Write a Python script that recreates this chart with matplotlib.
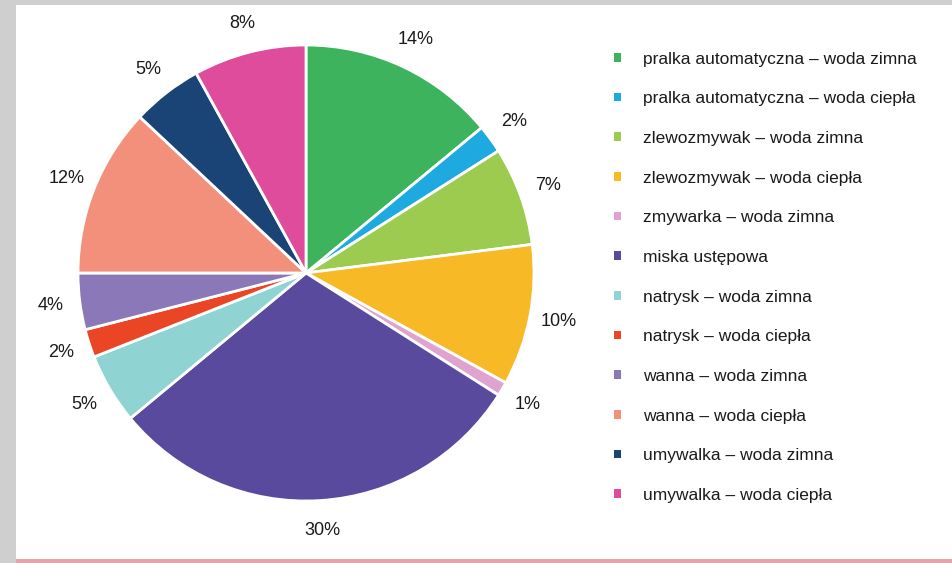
import matplotlib.pyplot as plt
from matplotlib.patches import Rectangle

plt.rcParams['font.family'] = ['Liberation Sans', 'DejaVu Sans']

# Zużycie wody w gospodarstwie domowym (%)
labels = ['pralka automatyczna – woda zimna', 'pralka automatyczna – woda ciepła',
          'zlewozmywak – woda zimna', 'zlewozmywak – woda ciepła',
          'zmywarka – woda zimna', 'miska ustępowa',
          'natrysk – woda zimna', 'natrysk – woda ciepła',
          'wanna – woda zimna', 'wanna – woda ciepła',
          'umywalka – woda zimna', 'umywalka – woda ciepła']
values = [14, 2, 7, 10, 1, 30, 5, 2, 4, 12, 5, 8]
colors = ['#3cb35c', '#1fa9e1', '#9ccb4f', '#f7b926', '#e0a3cf', '#5a4a9e',
          '#8fd3d3', '#ea4524', '#8a78b8', '#f3907c', '#1b4476', '#e04c9c']

W, H = 952, 563
fig = plt.figure(figsize=(W / 100, H / 100), dpi=100)
fig.patch.set_facecolor('#cfcfcf')

# biały panel i różowy pasek na dole
fig.patches.append(Rectangle((16 / W, 4 / H), 1 - 16 / W, 1 - 9 / H,
                             transform=fig.transFigure, facecolor='white',
                             edgecolor='none', zorder=-5))
fig.patches.append(Rectangle((16 / W, 0), 1 - 16 / W, 4 / H,
                             transform=fig.transFigure, facecolor='#e8a2aa',
                             edgecolor='none', zorder=-5))

cx, cy, r = 306, 273, 228
lim = 1.3
side = 2 * lim * r
ax = fig.add_axes([(cx - side / 2) / W, (H - cy - side / 2) / H, side / W, side / H])
ax.set_facecolor('none')
ax.set_zorder(2)

wedges, _, pcts = ax.pie(values, colors=colors, startangle=90, counterclock=False,
                         autopct='%d%%', pctdistance=1.13, radius=1,
                         wedgeprops=dict(edgecolor='white', linewidth=2),
                         textprops=dict(fontsize=13, color='#1a1a1a'))
ax.set_xlim(-lim, lim)
ax.set_ylim(-lim, lim)
ax.set_aspect('equal')
ax.axis('off')

leg = fig.legend(wedges, labels, loc='upper left', bbox_to_anchor=(598 / W, 1 - 36 / H),
                 frameon=False, fontsize=12.5, handlelength=0.4, handleheight=0.4,
                 handletextpad=1.3, labelspacing=1.42, labelcolor='#1a1a1a')
leg.set_zorder(3)
for h in leg.legend_handles:
    h.set_linewidth(0)

fig.savefig('out.png', dpi=100, facecolor=fig.get_facecolor())
